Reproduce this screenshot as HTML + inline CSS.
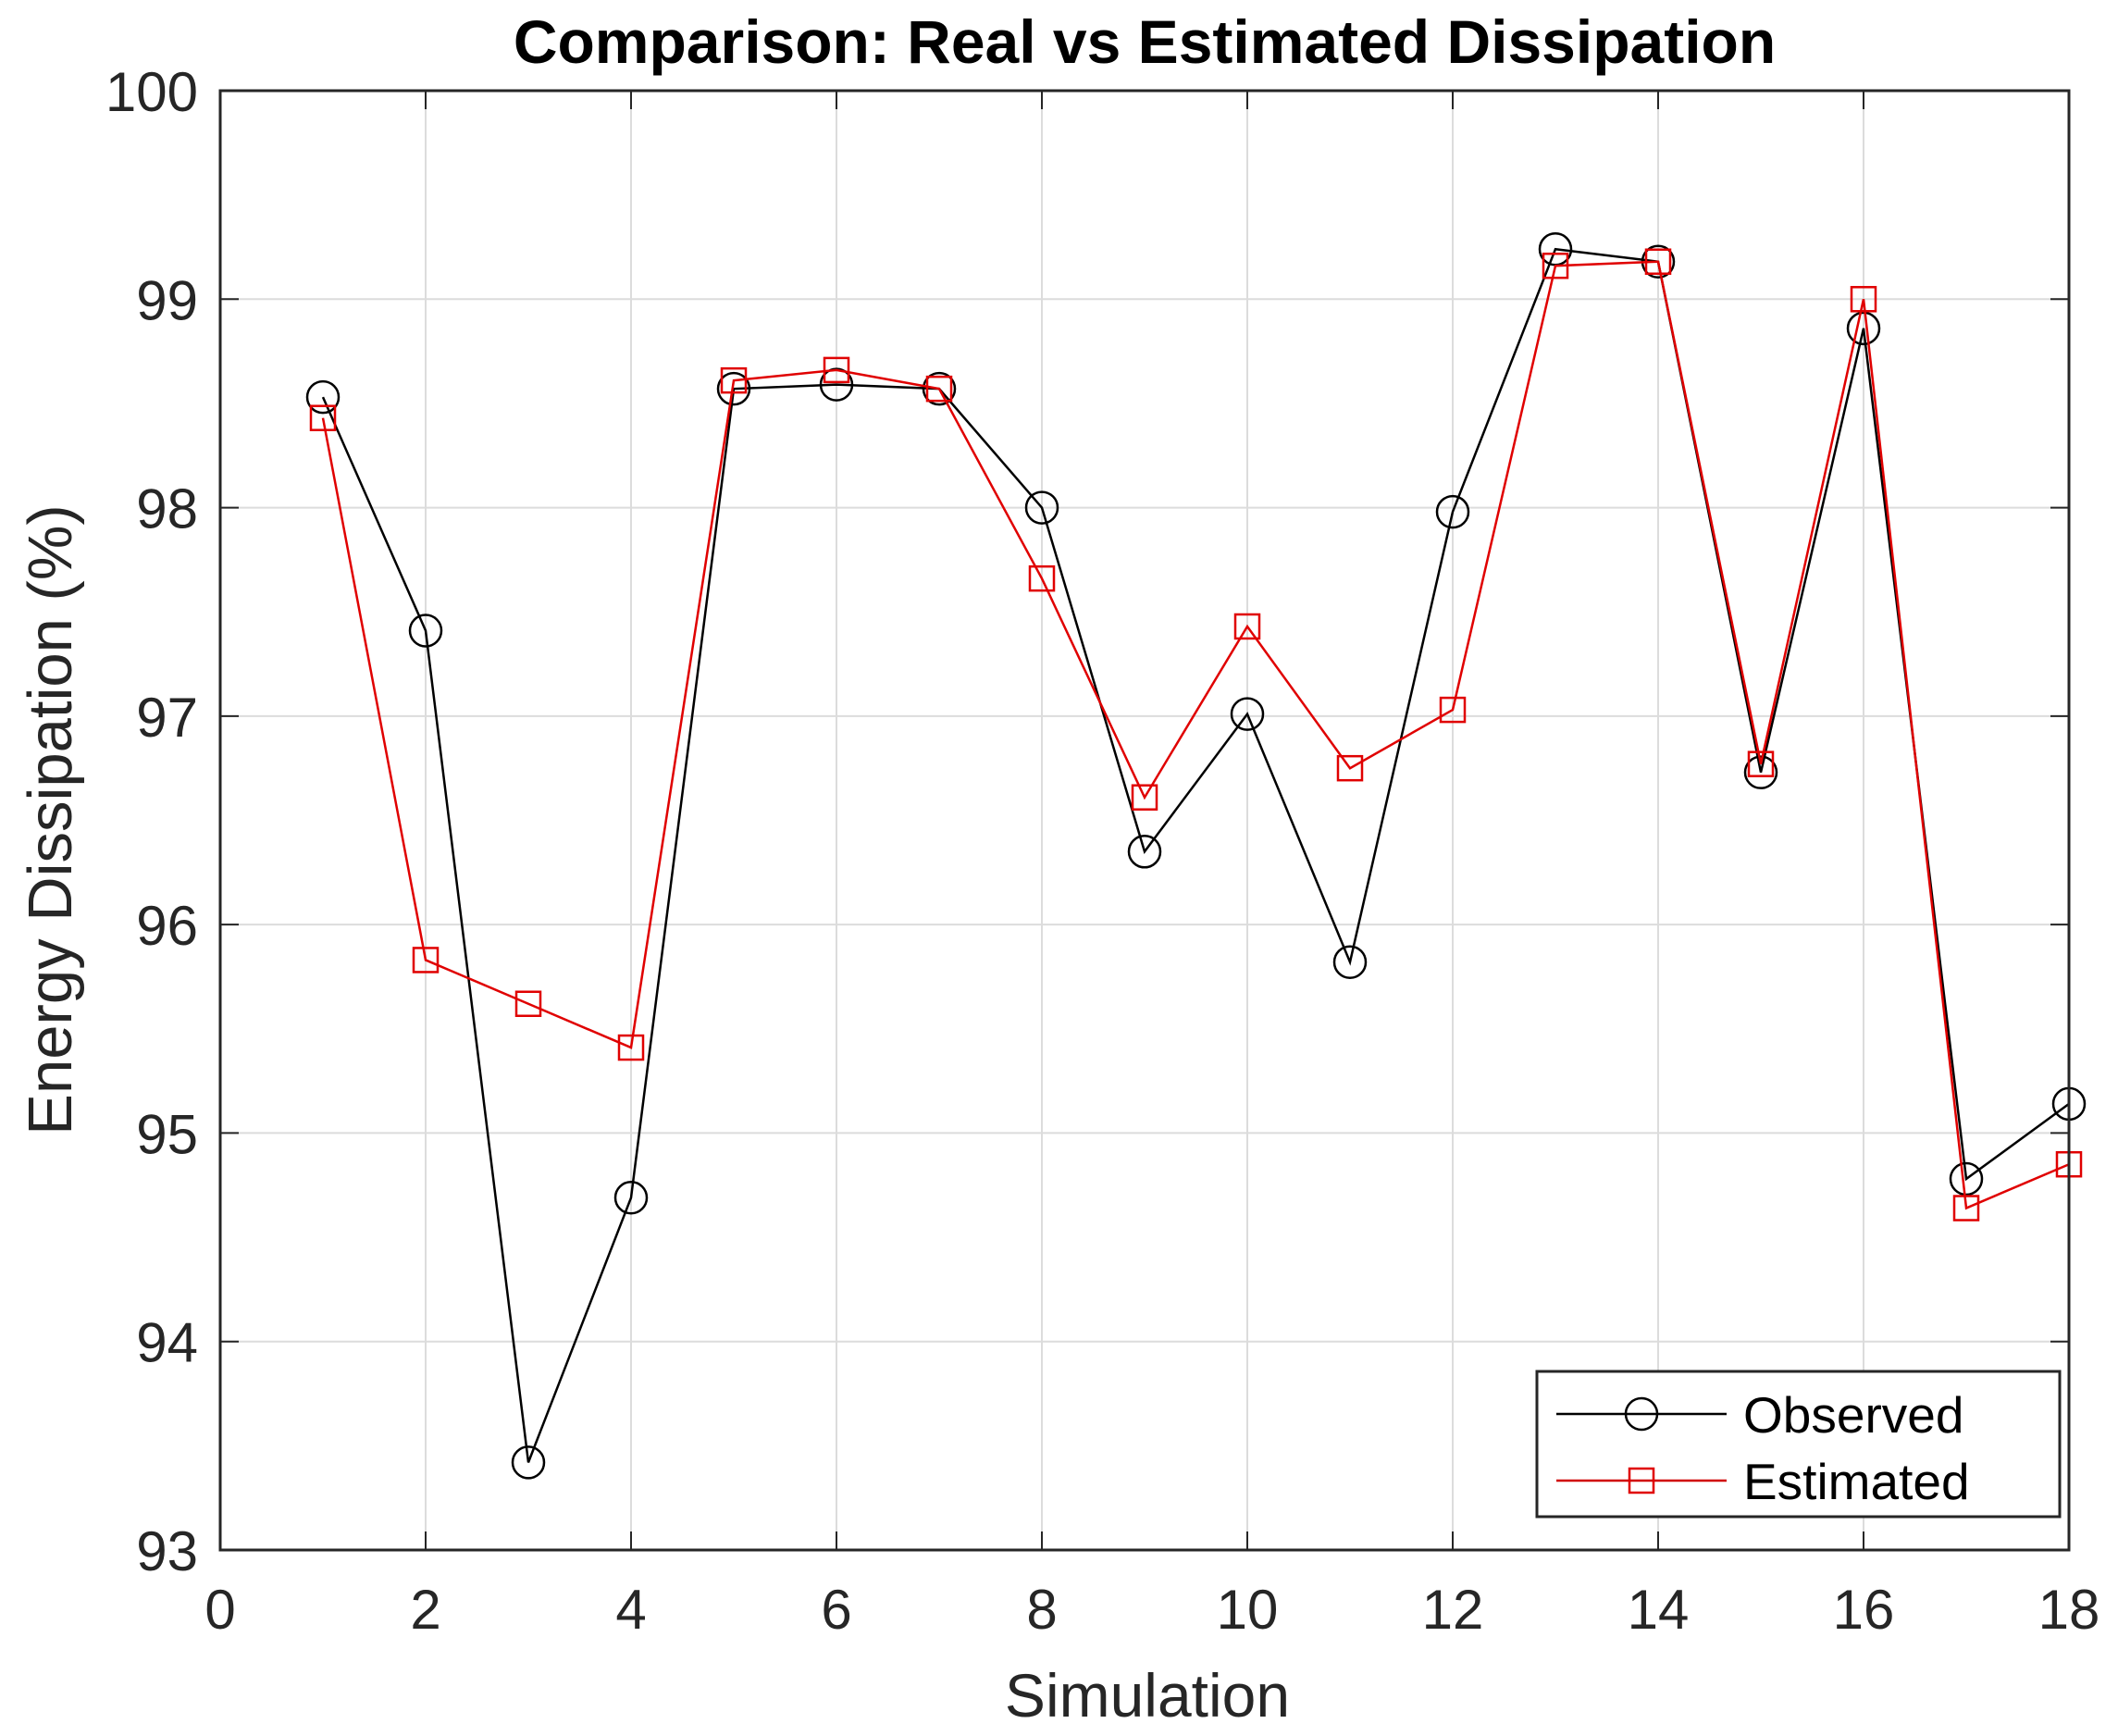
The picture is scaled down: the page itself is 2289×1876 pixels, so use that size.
<!DOCTYPE html>
<html><head><meta charset="utf-8"><style>
html,body{margin:0;padding:0;background:#fff;}
svg{display:block;font-family:"Liberation Sans",Arial,sans-serif;}
</style></head><body>
<svg id="chart" width="2289" height="1876" viewBox="0 0 2289 1876" xmlns="http://www.w3.org/2000/svg">
<rect width="2289" height="1876" fill="#fff"/>
<g id="grid"></g>
<g id="series"></g>
<g id="axes"></g>
<text x="1237" y="68" font-size="66" font-weight="bold" text-anchor="middle">Comparison: Real vs Estimated Dissipation</text>
<text x="1240" y="1855" font-size="66" text-anchor="middle" fill="#262626">Simulation</text>
<text transform="translate(77,886) rotate(-90)" font-size="67" text-anchor="middle" fill="#262626">Energy Dissipation (%)</text>
<g>
<rect x="1661" y="1482" width="565" height="157" fill="#fff" stroke="#262626" stroke-width="3"/>
<g>
<line x1="1682" y1="1528" x2="1866" y2="1528" stroke="#000" stroke-width="2.5"/>
<circle cx="1774" cy="1528" r="17" fill="none" stroke="#000" stroke-width="2.5"/>
<text x="1884" y="1548" font-size="55" fill="#000">Observed</text>
</g>
<g>
<line x1="1682" y1="1600" x2="1866" y2="1600" stroke="#d00000" stroke-width="2.5"/>
<rect x="1761" y="1587" width="26" height="26" fill="none" stroke="#e00000" stroke-width="2.5"/>
<text x="1884" y="1620" font-size="55" fill="#000">Estimated</text>
</g>
</g>
</svg>
<script>
const simulations = [1,2,3,4,5,6,7,8,9,10,11,12,13,14,15,16,17,18];
const observed = [98.53,97.41,93.42,94.69,98.57,98.59,98.57,98.00,96.35,97.01,95.82,97.98,99.24,99.18,96.73,98.86,94.78,95.14];
const estimated = [98.43,95.83,95.62,95.41,98.61,98.66,98.57,97.66,96.61,97.43,96.75,97.03,99.16,99.18,96.77,99.00,94.64,94.85];
const xTicks = [0,2,4,6,8,10,12,14,16,18];
const yTicks = [93,94,95,96,97,98,99,100];

const NS = "http://www.w3.org/2000/svg";
const L = 238, R = 2236, T = 98, B = 1675;
const xMin = 0, xMax = 18, yMin = 93, yMax = 100;
function xs(v){ return L + (v - xMin) / (xMax - xMin) * (R - L); }
function ys(v){ return B - (v - yMin) / (yMax - yMin) * (B - T); }
function mk(tag, attrs, parent){
  const e = document.createElementNS(NS, tag);
  for (const k in attrs) e.setAttribute(k, attrs[k]);
  parent.appendChild(e);
  return e;
}
const grid = document.getElementById('grid');
const axes = document.getElementById('axes');
const series = document.getElementById('series');

xTicks.forEach(t => {
  const x = xs(t);
  const g = mk('line', {x1:x, y1:T, x2:x, y2:B, stroke:'#dcdcdc', 'stroke-width':2}, grid);
  
  
  mk('line', {x1:x, y1:B, x2:x, y2:B-20, stroke:'#262626', 'stroke-width':2}, axes);
  mk('line', {x1:x, y1:T, x2:x, y2:T+20, stroke:'#262626', 'stroke-width':2}, axes);
  const lb = mk('text', {x:x, y:B+85, 'font-size':60, 'text-anchor':'middle', fill:'#262626'}, axes);
  lb.textContent = t;
  
  
});
yTicks.forEach(t => {
  const y = ys(t);
  const g = mk('line', {x1:L, y1:y, x2:R, y2:y, stroke:'#dcdcdc', 'stroke-width':2}, grid);
  
  
  mk('line', {x1:L, y1:y, x2:L+20, y2:y, stroke:'#262626', 'stroke-width':2}, axes);
  mk('line', {x1:R, y1:y, x2:R-20, y2:y, stroke:'#262626', 'stroke-width':2}, axes);
  const lb = mk('text', {x:L-24, y:y+22, 'font-size':60, 'text-anchor':'end', fill:'#262626'}, axes);
  lb.textContent = t;
  
  
});
const frame = mk('rect', {x:L, y:T, width:R-L, height:B-T, fill:'none', stroke:'#262626', 'stroke-width':3}, axes);



function drawSeries(vals, color, marker, name){
  const pts = vals.map((v,i) => xs(simulations[i]) + ',' + ys(v)).join(' ');
  const pl = mk('polyline', {points:pts, fill:'none', stroke:color, 'stroke-width':2.5}, series);
  
  
  vals.forEach((v,i) => {
    const x = xs(simulations[i]), y = ys(v);
    let m;
    if (marker === 'circle') m = mk('circle', {cx:x, cy:y, r:17, fill:'none', stroke:color, 'stroke-width':2.5}, series);
    else m = mk('rect', {x:x-13, y:y-13, width:26, height:26, fill:'none', stroke:color, 'stroke-width':2.5}, series);
    
    
  });
}
drawSeries(observed, '#000', 'circle', 'observed');
drawSeries(estimated, '#e00000', 'square', 'estimated');
</script>
</body></html>
